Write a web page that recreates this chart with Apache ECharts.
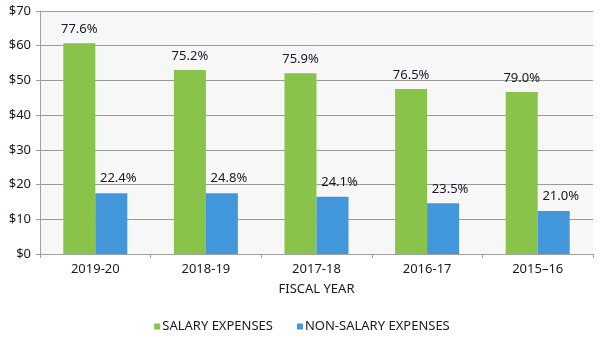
<!DOCTYPE html>
<html>
<head>
<meta charset="utf-8">
<script src="https://cdn.jsdelivr.net/npm/echarts@6/dist/echarts.min.js"></script>
<style>
  html, body { margin: 0; padding: 0; background: #ffffff; }
  #chart { width: 604px; height: 343px; }
</style>
</head>
<body>
<div id="chart"></div>
<script>
// Fiscal years shown left to right (most recent first)
const fiscalYears = ['2019-20', '2018-19', '2017-18', '2016-17', '2015\u201316'];

// Expenses in millions of dollars
const salaryExpenses = [60.7, 53.0, 52.1, 47.5, 46.7];
const nonSalaryExpenses = [17.5, 17.5, 16.5, 14.6, 12.4];

// Share of total expenses printed above each bar
const salaryShare = ['77.6%', '75.2%', '75.9%', '76.5%', '79.0%'];
const nonSalaryShare = ['22.4%', '24.8%', '24.1%', '23.5%', '21.0%'];

// Value axis ticks
const yTicks = [0, 10, 20, 30, 40, 50, 60, 70];

const textColor = '#181828';
const fontFamily = '"Noto Sans", "DejaVu Sans", sans-serif';
const fontSize = 13;

const chart = echarts.init(document.getElementById('chart'), null, { renderer: 'canvas' });

chart.setOption({
  animation: false,
  textStyle: { fontFamily: fontFamily, color: textColor },
  grid: {
    left: 40, right: 11, top: 11, bottom: 89,
    show: true,
    backgroundColor: '#f7f7f7',
    borderWidth: 0
  },
  legend: {
    bottom: 5,
    left: 'center',
    itemWidth: 6,
    itemHeight: 6,
    itemGap: 24,
    icon: 'rect',
    textStyle: { fontSize: fontSize, color: textColor, fontFamily: fontFamily, padding: [0, 0, 0, -3] },
    data: ['SALARY EXPENSES', 'NON-SALARY EXPENSES']
  },
  xAxis: {
    type: 'category',
    data: fiscalYears,
    name: 'FISCAL YEAR',
    nameLocation: 'middle',
    nameGap: 29,
    nameTextStyle: { fontSize: fontSize, color: textColor, fontFamily: fontFamily },
    axisLine: { lineStyle: { color: '#a0a0a0', width: 1 } },
    axisTick: { show: true, length: 4, lineStyle: { color: '#a0a0a0' } },
    axisLabel: { fontSize: fontSize, color: textColor, margin: 9, fontFamily: fontFamily }
  },
  yAxis: {
    type: 'value',
    min: yTicks[0],
    max: yTicks[yTicks.length - 1],
    interval: yTicks[1] - yTicks[0],
    axisLine: { show: true, lineStyle: { color: '#a0a0a0', width: 1 } },
    axisTick: { show: true, length: 4, lineStyle: { color: '#a0a0a0' } },
    splitLine: { show: true, lineStyle: { color: '#9a9a9a', width: 1 } },
    axisLabel: {
      fontSize: fontSize, color: textColor, margin: 9, fontFamily: fontFamily,
      formatter: function (v) { return '$' + v; }
    }
  },
  series: [
    {
      name: 'SALARY EXPENSES',
      type: 'bar',
      data: salaryExpenses,
      barWidth: 32,
      barGap: '0%',
      itemStyle: { color: '#89c34a' },
      label: {
        show: true,
        position: 'top',
        distance: 7,
        fontSize: fontSize,
        color: textColor,
        fontFamily: fontFamily,
        formatter: function (p) { return salaryShare[p.dataIndex]; }
      }
    },
    {
      name: 'NON-SALARY EXPENSES',
      type: 'bar',
      data: nonSalaryExpenses,
      barWidth: 32,
      barGap: '0%',
      itemStyle: { color: '#4297db' },
      label: {
        show: true,
        position: 'top',
        distance: 8,
        offset: [7, 0],
        fontSize: fontSize,
        color: textColor,
        fontFamily: fontFamily,
        formatter: function (p) { return nonSalaryShare[p.dataIndex]; }
      }
    }
  ]
});
</script>
</body>
</html>
